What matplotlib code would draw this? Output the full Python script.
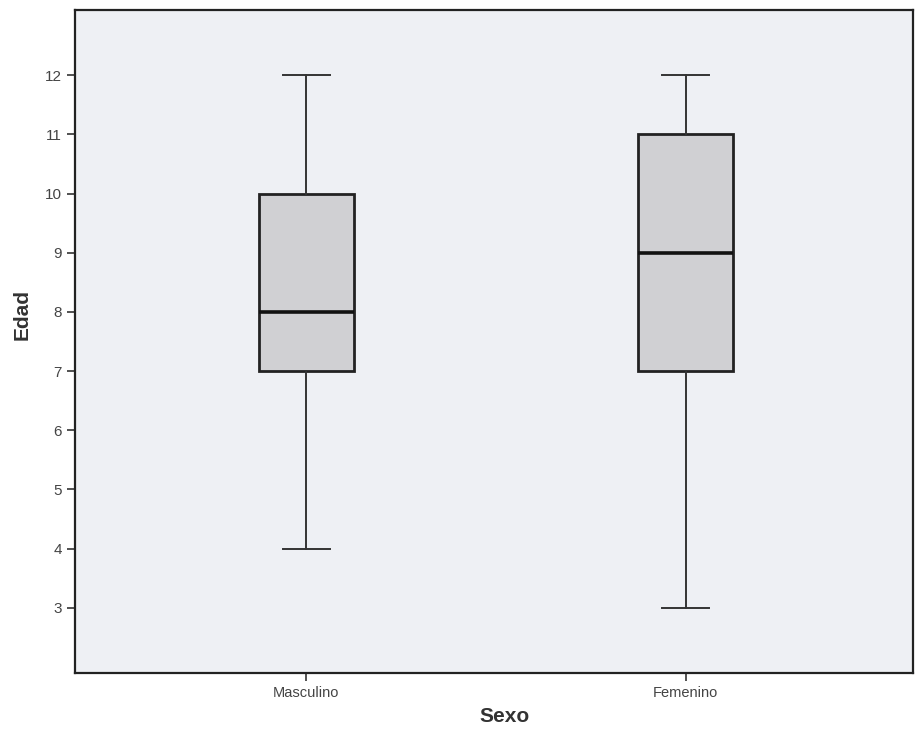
import matplotlib
matplotlib.use("Agg")
import matplotlib.pyplot as plt

# Datos del diagrama de caja (Edad por Sexo)
categorias = ["Masculino", "Femenino"]
minimos = [4, 3]
q1 = [7, 7]
medianas = [8, 9]
q3 = [10, 11]
maximos = [12, 12]
yticks = list(range(3, 13))

plt.rcParams['font.family'] = ['Liberation Sans', 'DejaVu Sans']

fig = plt.figure(figsize=(9.18, 7.41), dpi=100)
ax = fig.add_axes([0.0817, 0.0918, 0.9129, 0.8947])
ax.set_facecolor('#eef0f4')

stats = []
for i, nombre in enumerate(categorias):
    stats.append({
        'label': nombre, 'med': medianas[i], 'q1': q1[i], 'q3': q3[i],
        'whislo': minimos[i], 'whishi': maximos[i], 'fliers': [],
    })

ax.bxp(stats, positions=[1, 2], widths=0.25, capwidths=0.124,
       patch_artist=True, showfliers=False,
       boxprops=dict(facecolor='#d0d0d3', edgecolor='#222222', linewidth=2),
       medianprops=dict(color='#111111', linewidth=2.6),
       whiskerprops=dict(color='#333333', linewidth=1.4),
       capprops=dict(color='#333333', linewidth=1.4))

ax.set_xlim(0.39, 2.6)
ax.set_ylim(1.9, 13.1)
ax.set_yticks(yticks)
ax.set_yticklabels([str(v) for v in yticks])
ax.set_xticks([1, 2])
ax.set_xticklabels(categorias)

for s in ax.spines.values():
    s.set_linewidth(1.6)
    s.set_color('#222222')

ax.tick_params(axis='both', direction='out', length=6, width=1.2, color='#333333',
               labelsize=11, labelcolor='#444444')
ax.tick_params(axis='x', labelsize=10.5)

ax.set_ylabel('Edad', fontsize=15, fontweight='bold', color='#333333')
ax.set_xlabel('Sexo', fontsize=15, fontweight='bold', color='#333333')
ax.yaxis.set_label_coords(-0.052, 0.54)
ax.xaxis.set_label_coords(0.513, -0.051)

fig.savefig('out.png', dpi=100, facecolor='white')
